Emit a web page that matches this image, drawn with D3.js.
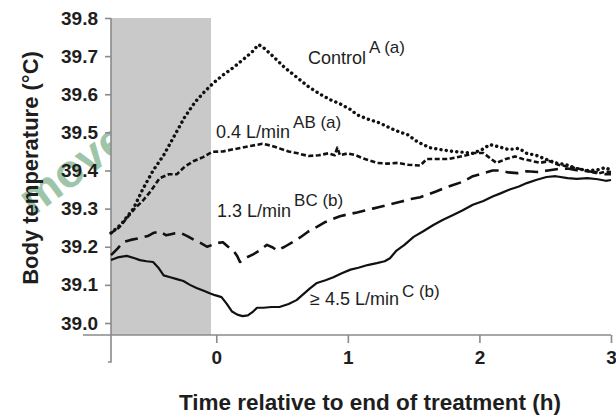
<!DOCTYPE html>
<html><head><meta charset="utf-8">
<script src="https://cdn.jsdelivr.net/npm/d3@7"></script>
<style>
html,body{margin:0;padding:0;background:#fff;}
svg{display:block;}
text{font-family:"Liberation Sans",Arial,sans-serif;fill:#1e1e1e;}
</style></head>
<body><svg id="c" width="616" height="416"></svg>
<script>
const xTicks = [0, 1, 2, 3];
const yTicks = [39.0, 39.1, 39.2, 39.3, 39.4, 39.5, 39.6, 39.7, 39.8];
const treatment = [-0.8, -0.04];

const controlT = [-0.80,-0.72,-0.63,-0.56,-0.48,-0.40,-0.32,-0.24,-0.16,-0.08,-0.02,0.05,0.13,0.20,0.27,0.32,0.35,0.43,0.52,0.61,0.70,0.79,0.87,0.94,1.02,1.07,1.15,1.24,1.33,1.40,1.45,1.53,1.62,1.70,1.80,1.88,1.95,2.02,2.08,2.15,2.22,2.30,2.36,2.43,2.50,2.58,2.66,2.74,2.82,2.90,2.96,3.00];
const controlV = [39.236,39.26,39.30,39.35,39.40,39.44,39.49,39.54,39.58,39.61,39.63,39.65,39.67,39.69,39.71,39.73,39.725,39.70,39.67,39.645,39.62,39.60,39.585,39.575,39.56,39.546,39.535,39.525,39.51,39.50,39.495,39.475,39.46,39.455,39.45,39.448,39.445,39.455,39.468,39.462,39.455,39.458,39.445,39.44,39.43,39.42,39.415,39.405,39.40,39.402,39.408,39.40];

const low04T = [-0.80,-0.74,-0.68,-0.62,-0.56,-0.50,-0.43,-0.36,-0.30,-0.24,-0.17,-0.10,-0.03,0.05,0.12,0.20,0.27,0.35,0.42,0.48,0.55,0.62,0.70,0.78,0.85,0.90,0.92,0.94,1.00,1.06,1.13,1.22,1.30,1.38,1.46,1.55,1.60,1.68,1.76,1.83,1.90,1.96,2.03,2.09,2.13,2.20,2.27,2.33,2.40,2.46,2.53,2.60,2.68,2.75,2.83,2.90,2.96,3.00];
const low04V = [39.236,39.25,39.275,39.30,39.32,39.345,39.38,39.39,39.39,39.41,39.425,39.435,39.449,39.45,39.455,39.46,39.465,39.47,39.465,39.458,39.45,39.445,39.438,39.44,39.445,39.44,39.46,39.44,39.445,39.44,39.43,39.42,39.418,39.42,39.415,39.413,39.43,39.43,39.43,39.435,39.44,39.446,39.446,39.43,39.42,39.43,39.437,39.43,39.425,39.42,39.425,39.415,39.41,39.405,39.398,39.392,39.397,39.396];

const mid13T = [-0.80,-0.75,-0.71,-0.65,-0.58,-0.52,-0.48,-0.43,-0.38,-0.32,-0.27,-0.22,-0.17,-0.12,-0.07,-0.03,0.01,0.05,0.09,0.13,0.16,0.18,0.22,0.28,0.33,0.385,0.43,0.46,0.52,0.58,0.64,0.70,0.765,0.83,0.88,0.94,1.00,1.07,1.13,1.19,1.24,1.31,1.40,1.48,1.55,1.60,1.67,1.74,1.80,1.87,1.95,2.03,2.10,2.16,2.22,2.29,2.36,2.44,2.52,2.60,2.67,2.75,2.82,2.90,2.96,3.00];
const mid13V = [39.178,39.195,39.212,39.218,39.223,39.228,39.236,39.24,39.23,39.235,39.236,39.228,39.218,39.21,39.20,39.205,39.21,39.212,39.20,39.19,39.175,39.16,39.17,39.18,39.19,39.205,39.198,39.19,39.20,39.212,39.225,39.24,39.252,39.265,39.272,39.28,39.285,39.29,39.295,39.30,39.304,39.31,39.318,39.325,39.33,39.336,39.345,39.355,39.362,39.37,39.385,39.393,39.40,39.40,39.395,39.393,39.398,39.396,39.40,39.404,39.405,39.40,39.398,39.395,39.39,39.39];

const high45T = [-0.80,-0.75,-0.68,-0.62,-0.58,-0.53,-0.48,-0.44,-0.40,-0.35,-0.30,-0.25,-0.20,-0.15,-0.10,-0.05,-0.01,0.04,0.08,0.12,0.16,0.20,0.24,0.28,0.31,0.36,0.42,0.48,0.55,0.61,0.66,0.71,0.765,0.83,0.89,0.95,1.02,1.08,1.15,1.22,1.28,1.32,1.37,1.43,1.50,1.57,1.65,1.72,1.80,1.87,1.95,2.03,2.10,2.16,2.23,2.30,2.36,2.43,2.51,2.58,2.67,2.74,2.82,2.90,2.96,3.00];
const high45V = [39.165,39.172,39.176,39.17,39.165,39.162,39.16,39.145,39.125,39.12,39.115,39.11,39.10,39.092,39.085,39.078,39.073,39.068,39.05,39.03,39.022,39.018,39.02,39.03,39.04,39.04,39.042,39.042,39.05,39.06,39.075,39.09,39.105,39.112,39.12,39.13,39.14,39.145,39.152,39.157,39.162,39.17,39.19,39.205,39.226,39.24,39.257,39.27,39.283,39.295,39.31,39.32,39.332,39.34,39.35,39.358,39.367,39.375,39.383,39.385,39.38,39.378,39.38,39.377,39.373,39.375];

const svg = d3.select("#c");
const x = d3.scaleLinear().domain([-0.8, 3]).range([111, 611]);
const y = d3.scaleLinear().domain([39.0, 39.8]).range([323, 18]);

// watermark (visible part of the word)
svg.append("text").text("move")
  .attr("transform","translate(130,146) rotate(-36)")
  .attr("text-anchor","end")
  .style("font-size","46px").style("font-weight","bold")
  .style("fill","#8fbb9b").style("opacity",0.85);

// treatment band
svg.append("rect")
  .attr("x", x(treatment[0])).attr("y", y(39.8))
  .attr("width", x(treatment[1]) - x(treatment[0]))
  .attr("height", 335 - y(39.8))
  .attr("fill", "#c9c9c9");

const axisCol = "#8a8a8a";
// y axis
const ya = svg.append("g").attr("transform","translate(111,0)")
  .call(d3.axisLeft(y).tickValues(yTicks).tickFormat(d3.format(".1f")).tickSize(6).tickSizeOuter(0).tickPadding(7));
ya.select(".domain").remove();
ya.selectAll(".tick line").attr("stroke",axisCol).attr("stroke-width",1.6);
ya.selectAll(".tick text").style("font-size","19px").style("font-weight","bold").style("font-family","'Liberation Sans',Arial,sans-serif").attr("fill","#1e1e1e");
svg.append("path").attr("d","M111,"+y(39.8)+"V362H108").attr("fill","none").attr("stroke",axisCol).attr("stroke-width",1.6);

// x axis
const xa = svg.append("g").attr("transform","translate(0,335)")
  .call(d3.axisBottom(x).tickValues(xTicks).tickFormat(d3.format("d")).tickSize(8).tickSizeOuter(0).tickPadding(8));
xa.select(".domain").remove();
xa.selectAll(".tick line").attr("stroke",axisCol).attr("stroke-width",1.6);
xa.selectAll(".tick text").style("font-size","19px").style("font-weight","bold").style("font-family","'Liberation Sans',Arial,sans-serif").attr("fill","#1e1e1e");
svg.append("line").attr("x1",83).attr("x2",x(3)).attr("y1",335).attr("y2",335).attr("stroke",axisCol).attr("stroke-width",1.6);

// series
const line = d3.line().x(d=>x(d[0])).y(d=>y(d[1]));
function series(T,V,w,dash,cap){
  svg.append("path").datum(T.map((t,i)=>[t,V[i]]))
    .attr("d",line).attr("fill","none").attr("stroke","#111")
    .attr("stroke-width",w).attr("stroke-dasharray",dash)
    .attr("stroke-linecap",cap).attr("stroke-linejoin","round");
}
series(controlT, controlV, 3.4, "0.1 5.2", "round");
series(low04T, low04V, 2.6, "5 2.5", "butt");
series(mid13T, mid13V, 2.6, "13 7", "butt");
series(high45T, high45V, 2.2, null, "butt");

// annotations
function label(px,py,main,sup,dy){
  const t = svg.append("text").attr("x",px).attr("y",py).style("font-size","18px");
  t.append("tspan").text(main);
  t.append("tspan").attr("dy",-dy).attr("dx",3).style("font-size","17px").text(sup);
}
label(308,64,"Control","A (a)",11);
label(216,138,"0.4 L/min","AB (a)",10);
label(217,217,"1.3 L/min","BC (b)",11);
label(310,305,"\u2265 4.5 L/min","C (b)",8);

// axis titles
svg.append("text").attr("x",370).attr("y",410).attr("text-anchor","middle")
  .style("font-size","22.5px").style("font-weight","bold").text("Time relative to end of treatment (h)");
svg.append("text").attr("transform","translate(38,168) rotate(-90)").attr("text-anchor","middle")
  .style("font-size","22px").style("font-weight","bold").text("Body temperature (\u00b0C)");
</script></body></html>
